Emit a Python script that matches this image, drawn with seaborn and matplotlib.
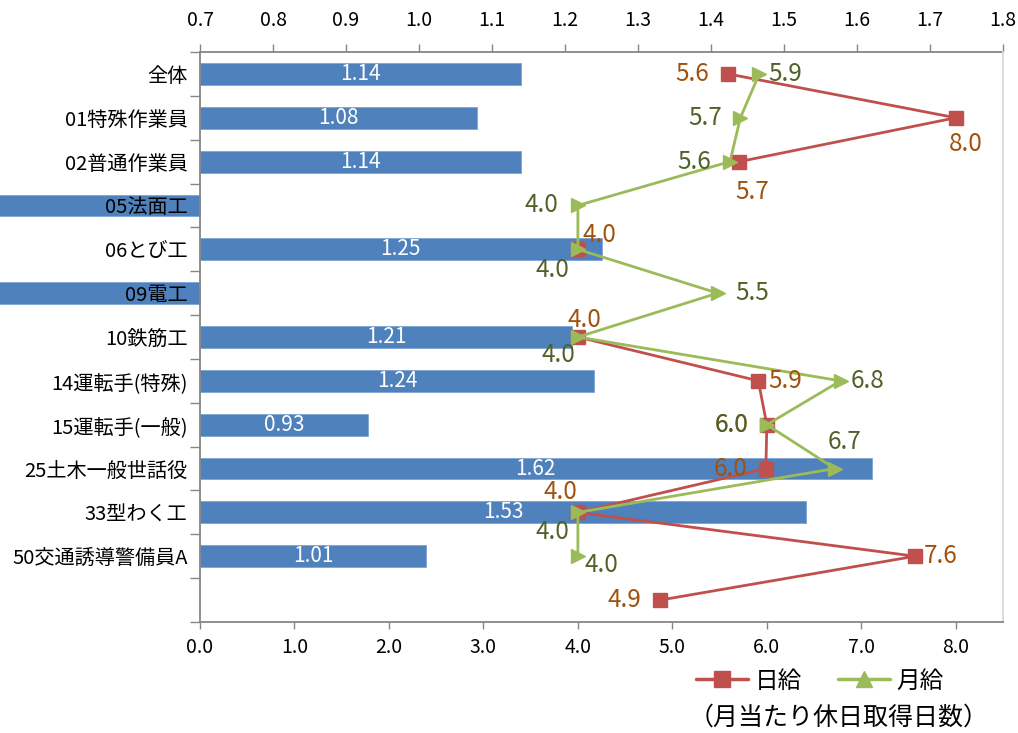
import numpy as np
import pandas as pd
import matplotlib
matplotlib.use("Agg")
import matplotlib.pyplot as plt
import seaborn as sns
from matplotlib.lines import Line2D
from matplotlib.ticker import FixedLocator, FormatStrFormatter

# ---------------- data ----------------
categories = ["全体", "01特殊作業員", "02普通作業員", "05法面工", "06とび工", "09電工",
              "10鉄筋工", "14運転手(特殊)", "15運転手(一般)", "25土木一般世話役",
              "33型わく工", "50交通誘導警備員A", ""]
ratio = [1.14, 1.08, 1.14, 0.0, 1.25, 0.0, 1.21, 1.24, 0.93, 1.62, 1.53, 1.01, np.nan]
ratio_labels = ["1.14", "1.08", "1.14", "", "1.25", "", "1.21", "1.24", "0.93",
                "1.62", "1.53", "1.01", ""]
daily = [5.59, 8.0, 5.71, np.nan, 4.0, np.nan, 4.0, 5.91, 6.0, 5.99, 4.0, 7.57, 4.87]
monthly = [5.92, 5.72, 5.61, 4.0, 4.0, 5.48, 4.0, 6.78, 6.0, 6.72, 4.0, 4.0, np.nan]
top_ticks = [0.7, 0.8, 0.9, 1.0, 1.1, 1.2, 1.3, 1.4, 1.5, 1.6, 1.7, 1.8]
bottom_ticks = [0.0, 1.0, 2.0, 3.0, 4.0, 5.0, 6.0, 7.0, 8.0]
series_names = ["日給", "月給"]
unit_note = "（月当たり休日取得日数）"

# ---------------- style ----------------
sns.set_theme(style="white")
plt.rcParams["font.family"] = ["Noto Sans CJK JP", "DejaVu Sans"]
plt.rcParams["text.color"] = "black"
plt.rcParams["xtick.labelcolor"] = "black"
plt.rcParams["ytick.labelcolor"] = "black"

BAR_C = "#4F81BD"
RED = "#C0504D"
GREEN = "#9BBB59"
RED_TXT = "#A0520C"
GREEN_TXT = "#4F6228"
SPINE = "#868686"

# label offsets in pixels (dx right, dy down) from the marker centre
red_off = [(-36, 0), (10, 26), (13, 30), None, (22, -14), None, (7, -17),
           (27, 0), (-35, 0), (-35, 0), (-17, -20), (25, 0), (-36, 0)]
green_off = [(26, 0), (-35, 0), (-36, 0), (-36, 0), (-25, 21), (35, 0), (-19, 18),
             (27, 0), (-35, 0), (10, -27), (-25, 20), (24, 9), None]

fig = plt.figure(figsize=(10.18, 7.33), dpi=100)
L, R, T, B = 200 / 1018, 1003 / 1018, 1 - 52 / 733, 1 - 622 / 733
ax = fig.add_axes([L, B, R - L, T - B])

df = pd.DataFrame({"cat": categories, "ratio": ratio})
sns.barplot(data=df, y="cat", x="ratio", order=categories, orient="h",
            color=BAR_C, saturation=1, width=0.5, ax=ax, zorder=1)

base = 0.7
for p in ax.patches:
    yc = p.get_y() + p.get_height() / 2
    i = int(round(yc))
    v = ratio[i]
    if np.isnan(v):
        p.set_visible(False)
        continue
    p.set_x(base)
    p.set_width(v - base)
    p.set_edgecolor("#7FA3D3")
    p.set_linewidth(0.6)
    if v < base:
        p.set_clip_on(False)
    if ratio_labels[i]:
        ax.text((base + v) / 2, i, ratio_labels[i], color="white", fontsize=15,
                ha="center", va="center", zorder=3)

ax.set_xlim(0.7, 1.8)
ax.set_ylim(len(categories) - 0.5, -0.5)
ax.set_xlabel("")
ax.set_ylabel("")
ax.set_axisbelow(False)
ax.tick_params(axis="y", which="major", length=0, labelsize=14.5, pad=9, labelcolor="black")
ax.set_yticks(np.arange(len(categories) + 1) - 0.5, minor=True)
ax.tick_params(axis="y", which="minor", direction="out", length=7, width=1, color=SPINE, left=True)
ax.grid(False)

# twin for lines (bottom axis)
ax2 = ax.twiny()
ax2.set_xlim(0, 8.5)
ax2.xaxis.set_major_locator(FixedLocator(bottom_ticks))
ax2.xaxis.set_major_formatter(FormatStrFormatter("%.1f"))
ax2.tick_params(axis="x", direction="out", length=5, width=1, color=SPINE,
                labelsize=14, pad=6, bottom=True, top=False,
                labelbottom=True, labeltop=False, labelcolor="black")
ax2.spines["top"].set_visible(False)
ax2.spines["left"].set_visible(False)
ax2.spines["bottom"].set_color(SPINE)
ax2.spines["bottom"].set_linewidth(1.3)
ax2.spines["right"].set_color("#D9D9D9")
ax2.spines["right"].set_linewidth(1.3)
ax2.grid(False)

# main (bar) axis ticks on top
ax.xaxis.set_major_locator(FixedLocator(top_ticks))
ax.xaxis.set_major_formatter(FormatStrFormatter("%.1f"))
ax.tick_params(axis="x", which="major", direction="out", length=6, width=1,
               color=SPINE, labelsize=14, pad=9, top=True, bottom=False,
               labeltop=True, labelbottom=False, labelcolor="black")
for s in ["bottom", "right"]:
    ax.spines[s].set_visible(False)
for s in ["top", "left"]:
    ax.spines[s].set_visible(True)
    ax.spines[s].set_color(SPINE)
    ax.spines[s].set_linewidth(1.3)

ypos = np.arange(len(categories))
ax2.plot(daily, ypos, color=RED, lw=2, marker="s", ms=10, mfc=RED, mec=RED, zorder=3)
ax2.plot(monthly, ypos, color=GREEN, lw=2, marker=">", ms=10, mfc=GREEN, mec=GREEN, zorder=4)

px2pt = 72 / 100
for vals, offs, col in [(daily, red_off, RED_TXT), (monthly, green_off, GREEN_TXT)]:
    for i, (v, o) in enumerate(zip(vals, offs)):
        if o is None or np.isnan(v):
            continue
        ax2.annotate(f"{v:.1f}", (v, i), xytext=(o[0] * px2pt, -o[1] * px2pt),
                     textcoords="offset points", ha="center", va="center",
                     fontsize=17.5, color=col, zorder=5, annotation_clip=False)

handles = [Line2D([], [], color=RED, lw=2.5, marker="s", ms=11),
           Line2D([], [], color=GREEN, lw=2.5, marker="^", ms=11)]
fig.legend(handles, series_names, loc="center", bbox_to_anchor=(820 / 1018, 1 - 681 / 733),
           ncol=2, frameon=False, fontsize=17, handlelength=2.2, handletextpad=0.3,
           columnspacing=1.5)
fig.text(839 / 1018, 1 - 718 / 733, unit_note, ha="center", va="center", fontsize=18)

fig.savefig("out.png", dpi=100)
